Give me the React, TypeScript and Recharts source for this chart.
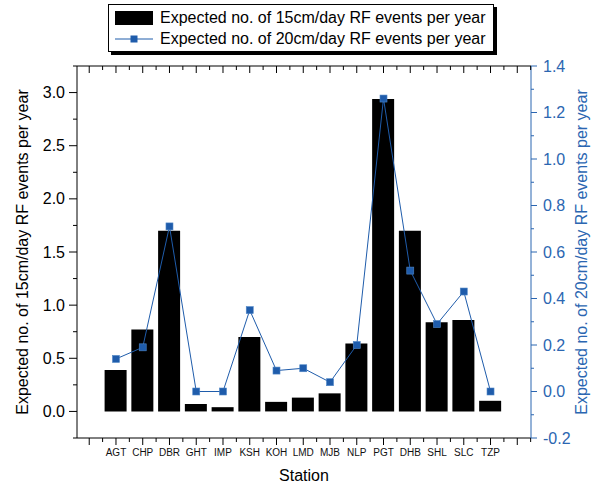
import React from "react";
import { ComposedChart, Bar, Line, XAxis, YAxis, Legend, Label } from "recharts";

const stations = ["AGT", "CHP", "DBR", "GHT", "IMP", "KSH", "KOH", "LMD", "MJB", "NLP", "PGT", "DHB", "SHL", "SLC", "TZP"];
const events15 = [0.39, 0.77, 1.7, 0.07, 0.04, 0.7, 0.09, 0.13, 0.17, 0.64, 2.94, 1.7, 0.84, 0.86, 0.1];
const events20 = [0.14, 0.19, 0.71, 0.0, 0.0, 0.35, 0.09, 0.1, 0.04, 0.2, 1.26, 0.52, 0.29, 0.43, 0.0];

const leftTicks = [-0.25, 0, 0.25, 0.5, 0.75, 1, 1.25, 1.5, 1.75, 2, 2.25, 2.5, 2.75, 3, 3.25];
const rightTicks = [-0.2, -0.1, 0, 0.1, 0.2, 0.3, 0.4, 0.5, 0.6, 0.7, 0.8, 0.9, 1.0, 1.1, 1.2, 1.3, 1.4];

const label15 = "Expected no. of 15cm/day RF events per year";
const label20 = "Expected no. of 20cm/day RF events per year";

const data = stations.map((s, i) => ({ station: s, e15: events15[i], e20: events20[i] }));

const FONT = "'Liberation Sans', Arial, Helvetica, sans-serif";
const BLUE = "#1f5cab";
const AXIS_BLUE = "#2b66b1";
const STEP = 26.75; // category spacing in px
const PAD_L = 25.6;
const PAD_R = 27.1;

// bottom axis: major tick at each station, minor half way, labels below
const BottomTick = (props: any) => {
  const { x, y, payload, index } = props;
  const h = STEP / 2;
  const last = index === stations.length - 1;
  return (
    <g>
      <line x1={x} x2={x} y1={y} y2={y + 7} stroke="#000" />
      <line x1={x + h} x2={x + h} y1={y} y2={y + 4} stroke="#000" />
      {index === 0 && <line x1={x - h} x2={x - h} y1={y} y2={y + 4} stroke="#000" />}
      {index === 0 && <line x1={x - STEP} x2={x - STEP} y1={y} y2={y + 7} stroke="#000" />}
      {last && <line x1={x + STEP} x2={x + STEP} y1={y} y2={y + 7} stroke="#000" />}
      {last && <line x1={x + STEP + h} x2={x + STEP + h} y1={y} y2={y + 4} stroke="#000" />}
      <text x={x} y={y + 18} textAnchor="middle" fontSize={10} fontFamily={FONT} fill="#111">
        {payload.value}
      </text>
    </g>
  );
};

// top axis: mirrored ticks, no labels
const TopTick = (props: any) => {
  const { x, y, index } = props;
  const h = STEP / 2;
  const last = index === stations.length - 1;
  return (
    <g>
      <line x1={x} x2={x} y1={y} y2={y + 7} stroke="#000" />
      <line x1={x + h} x2={x + h} y1={y} y2={y + 4} stroke="#000" />
      {index === 0 && <line x1={x - h} x2={x - h} y1={y} y2={y + 4} stroke="#000" />}
      {index === 0 && <line x1={x - STEP} x2={x - STEP} y1={y} y2={y + 7} stroke="#000" />}
      {last && <line x1={x + STEP} x2={x + STEP} y1={y} y2={y + 7} stroke="#000" />}
      {last && <line x1={x + STEP + h} x2={x + STEP + h} y1={y} y2={y + 4} stroke="#000" />}
    </g>
  );
};

const LeftTick = (props: any) => {
  const { x, y, payload } = props;
  const v = payload.value;
  const major = Math.round(v * 4) % 2 === 0;
  return (
    <g>
      <line x1={x} x2={x - (major ? 8 : 4)} y1={y} y2={y} stroke="#000" />
      {major && (
        <text x={x - 12} y={y} dy="0.35em" textAnchor="end" fontSize={16} fontFamily={FONT} fill="#000">
          {v.toFixed(1)}
        </text>
      )}
    </g>
  );
};

const RightTick = (props: any) => {
  const { x, y, payload } = props;
  const v = payload.value;
  const major = Math.round(v * 10) % 2 === 0;
  return (
    <g>
      <line x1={x} x2={x + (major ? 6 : 3)} y1={y} y2={y} stroke={AXIS_BLUE} />
      {major && (
        <text x={x + 12} y={y} dy="0.35em" textAnchor="start" fontSize={16} fontFamily={FONT} fill={AXIS_BLUE}>
          {v.toFixed(1)}
        </text>
      )}
    </g>
  );
};

const SquareDot = (props: any) => {
  const { cx, cy } = props;
  if (cx == null || cy == null) return null;
  return <rect x={cx - 3.5} y={cy - 3.5} width={7} height={7} fill={BLUE} stroke="#4f86c6" strokeWidth={0.6} />;
};

const LegendBox = () => (
  <div
    style={{
      border: "1px solid #000",
      boxShadow: "3px 3px 0 #000",
      background: "#fff",
      padding: "2px 6px 2px 6px",
      fontFamily: FONT,
      fontSize: 16,
      lineHeight: "21px",
      width: 372,
    }}
  >
    <div style={{ display: "flex", alignItems: "center" }}>
      <span style={{ display: "inline-block", width: 38, height: 14, background: "#000", marginRight: 7 }} />
      <span>{label15}</span>
    </div>
    <div style={{ display: "flex", alignItems: "center" }}>
      <svg width={38} height={14} style={{ marginRight: 7 }}>
        <line x1={0} x2={38} y1={7} y2={7} stroke={BLUE} strokeWidth={1} />
        <rect x={15.5} y={3.5} width={7} height={7} fill={BLUE} />
      </svg>
      <span>{label20}</span>
    </div>
  </div>
);

const YTitle = (x: number, text: string, color: string) => (props: any) => {
  const vb = props.viewBox;
  const cy = vb.y + vb.height / 2;
  return (
    <text
      x={x}
      y={cy}
      transform={`rotate(-90, ${x}, ${cy})`}
      textAnchor="middle"
      dominantBaseline="central"
      fontSize={16}
      fontFamily={FONT}
      fill={color}
    >
      {text}
    </text>
  );
};

export default function App() {
  return (
    <div style={{ position: "absolute", left: 0, top: 0, width: 599, height: 483, background: "#fff" }}>
      <ComposedChart width={599} height={483} data={data} margin={{ top: 65, right: 0, bottom: 0, left: 0 }}>
        <XAxis
          dataKey="station"
          xAxisId="bottom"
          orientation="bottom"
          height={45}
          padding={{ left: PAD_L, right: PAD_R }}
          interval={0}
          tickSize={0}
          tickMargin={0}
          tickLine={false}
          axisLine={{ stroke: "#000" }}
          tick={BottomTick}
        >
          <Label
            content={(p: any) => {
              const vb = p.viewBox;
              return (
                <text x={vb.x + vb.width / 2} y={vb.y + 43} textAnchor="middle" fontSize={16} fontFamily={FONT} fill="#000">
                  Station
                </text>
              );
            }}
          />
        </XAxis>
        <XAxis
          dataKey="station"
          xAxisId="top"
          orientation="top"
          height={1}
          padding={{ left: PAD_L, right: PAD_R }}
          interval={0}
          tickSize={0}
          tickMargin={0}
          tickLine={false}
          axisLine={{ stroke: "#000" }}
          tick={TopTick}
        />
        <YAxis
          yAxisId="left"
          orientation="left"
          width={77}
          domain={[-0.25, 3.25]}
          ticks={leftTicks}
          type="number"
          allowDataOverflow
          interval={0}
          tickSize={0}
          tickMargin={0}
          tickLine={false}
          axisLine={{ stroke: "#000" }}
          tick={LeftTick}
        >
          <Label content={YTitle(22, label15, "#000")} />
        </YAxis>
        <YAxis
          yAxisId="right"
          orientation="right"
          width={68}
          domain={[-0.2, 1.4]}
          ticks={rightTicks}
          type="number"
          allowDataOverflow
          interval={0}
          tickSize={0}
          tickMargin={0}
          tickLine={false}
          axisLine={{ stroke: AXIS_BLUE }}
          tick={RightTick}
        >
          <Label content={YTitle(581, label20, AXIS_BLUE)} />
        </YAxis>
        <Legend
          layout="horizontal"
          verticalAlign="middle"
          align="center"
          wrapperStyle={{ top: 4, left: 108, width: 390 }}
          content={LegendBox}
        />
        <Bar
          dataKey="e15"
          xAxisId="bottom"
          yAxisId="left"
          fill="#000"
          barSize={22}
          isAnimationActive={false}
        />
        <Line
          dataKey="e20"
          xAxisId="bottom"
          yAxisId="right"
          stroke={BLUE}
          strokeWidth={1}
          type="linear"
          dot={<SquareDot />}
          activeDot={false}
          isAnimationActive={false}
        />
      </ComposedChart>
    </div>
  );
}
